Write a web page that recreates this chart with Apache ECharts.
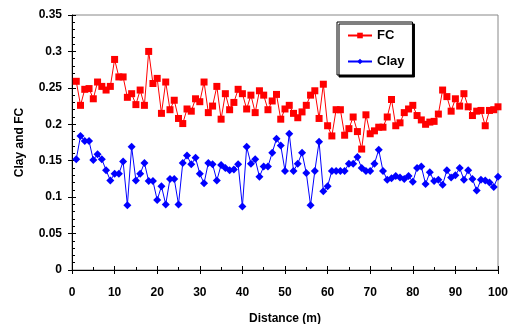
<!DOCTYPE html>
<html>
<head>
<meta charset="utf-8">
<script src="https://cdn.jsdelivr.net/npm/echarts@6/dist/echarts.min.js"></script>
<style>
html, body { margin: 0; padding: 0; background: #fff; }
#chart { width: 510px; height: 324px; }
</style>
</head>
<body>
<div id="chart"></div>
<script>
// sampling points along the line, 1 m apart
const distance = Array.from({ length: 100 }, (_, i) => i + 1)
const fc = [
    0.259, 0.226, 0.248, 0.249, 0.235, 0.258, 0.252, 0.247, 0.252, 0.289,
    0.265, 0.265, 0.237, 0.242, 0.227, 0.247, 0.226, 0.300, 0.256, 0.263,
    0.215, 0.258, 0.220, 0.233, 0.208, 0.201, 0.221, 0.218, 0.235, 0.231,
    0.258, 0.216, 0.225, 0.252, 0.207, 0.242, 0.220, 0.230, 0.248, 0.242,
    0.221, 0.240, 0.216, 0.246, 0.240, 0.220, 0.232, 0.241, 0.207, 0.221,
    0.226, 0.215, 0.209, 0.217, 0.226, 0.240, 0.246, 0.208, 0.255, 0.198,
    0.184, 0.220, 0.220, 0.185, 0.194, 0.210, 0.190, 0.166, 0.213, 0.187,
    0.191, 0.196, 0.196, 0.210, 0.234, 0.198, 0.202, 0.216, 0.221, 0.226,
    0.212, 0.206, 0.200, 0.203, 0.204, 0.214, 0.247, 0.238, 0.218, 0.235,
    0.225, 0.242, 0.224, 0.212, 0.218, 0.219, 0.198, 0.219, 0.220, 0.224
]
const clay = [
    0.152, 0.184, 0.177, 0.177, 0.151, 0.159, 0.152, 0.137, 0.123, 0.132,
    0.132, 0.149, 0.089, 0.169, 0.123, 0.132, 0.147, 0.122, 0.122, 0.096,
    0.115, 0.090, 0.125, 0.125, 0.090, 0.147, 0.157, 0.145, 0.154, 0.132,
    0.119, 0.147, 0.145, 0.123, 0.144, 0.140, 0.137, 0.138, 0.145, 0.087,
    0.169, 0.146, 0.152, 0.128, 0.142, 0.142, 0.161, 0.180, 0.171, 0.136,
    0.187, 0.136, 0.146, 0.161, 0.133, 0.089, 0.136, 0.176, 0.108, 0.115,
    0.136, 0.136, 0.136, 0.136, 0.146, 0.146, 0.155, 0.140, 0.136, 0.136,
    0.146, 0.165, 0.136, 0.124, 0.126, 0.129, 0.127, 0.125, 0.129, 0.121,
    0.140, 0.142, 0.118, 0.134, 0.122, 0.124, 0.117, 0.137, 0.127, 0.130,
    0.140, 0.124, 0.137, 0.125, 0.109, 0.124, 0.123, 0.120, 0.114, 0.128
]
const font = 'Liberation Sans, Arial, sans-serif'
const label = { color: '#000', fontFamily: font, fontWeight: 'bold', fontSize: 12 }

const pairs = vals => vals.map((v, i) => [distance[i], v])

const chart = echarts.init(document.getElementById('chart'))
chart.setOption({
    animation: false,
    grid: {
        left: 72, right: 12, top: 15, bottom: 54,
        outerBoundsMode: 'none',
        show: true, borderColor: '#888', borderWidth: 1
    },
    legend: {
        orient: 'vertical',
        left: 337, top: 22,
        width: 74,
        padding: [7, 8, 7, 10],
        itemGap: 13,
        itemWidth: 24, itemHeight: 7,
        backgroundColor: '#fff',
        borderColor: '#000', borderWidth: 1,
        shadowColor: '#000', shadowBlur: 0, shadowOffsetX: 2, shadowOffsetY: 2,
        textStyle: Object.assign({}, label, { fontSize: 13 }),
        data: ['FC', 'Clay']
    },
    xAxis: [{
        type: 'value', min: 0, max: 100, interval: 10,
        name: 'Distance (m)', nameLocation: 'middle', nameGap: 43,
        nameTextStyle: label,
        axisLine: { onZero: false, lineStyle: { color: '#000', width: 1 } },
        axisTick: { inside: true, length: 4, lineStyle: { color: '#000' } },
        minorTick: { show: true, splitNumber: 2, length: 3, lineStyle: { color: '#000' } },
        axisLabel: Object.assign({ margin: 17 }, label),
        splitLine: { show: false }
    }, {
        type: 'value', min: 0, max: 100, interval: 10, position: 'bottom',
        axisLine: { show: false },
        axisTick: { inside: false, length: 4, lineStyle: { color: '#000' } },
        axisLabel: { show: false },
        splitLine: { show: false }
    }],
    yAxis: [{
        type: 'value', min: 0, max: 0.35, interval: 0.05,
        name: 'Clay and FC', nameLocation: 'middle', nameGap: 46,
        nameTextStyle: label,
        axisLine: { onZero: false, lineStyle: { color: '#000', width: 1 } },
        axisTick: { inside: true, length: 4, lineStyle: { color: '#000' } },
        minorTick: { show: true, splitNumber: 5, length: 3, lineStyle: { color: '#000' } },
        axisLabel: Object.assign({ margin: 10 }, label),
        splitLine: { show: false }
    }, {
        type: 'value', min: 0, max: 0.35, interval: 0.05, position: 'left',
        axisLine: { show: false },
        axisTick: { inside: false, length: 4, lineStyle: { color: '#000' } },
        axisLabel: { show: false },
        splitLine: { show: false }
    }],
    series: [{
        name: 'FC',
        type: 'line',
        data: pairs(fc),
        symbol: 'rect',
        symbolSize: 7,
        itemStyle: { color: '#ff0000' },
        lineStyle: { color: '#ff0000', width: 1 }
    }, {
        name: 'Clay',
        type: 'line',
        data: pairs(clay),
        symbol: 'diamond',
        symbolSize: 8,
        itemStyle: { color: '#0000ff' },
        lineStyle: { color: '#0000ff', width: 1 }
    }]
})
</script>
</body>
</html>
